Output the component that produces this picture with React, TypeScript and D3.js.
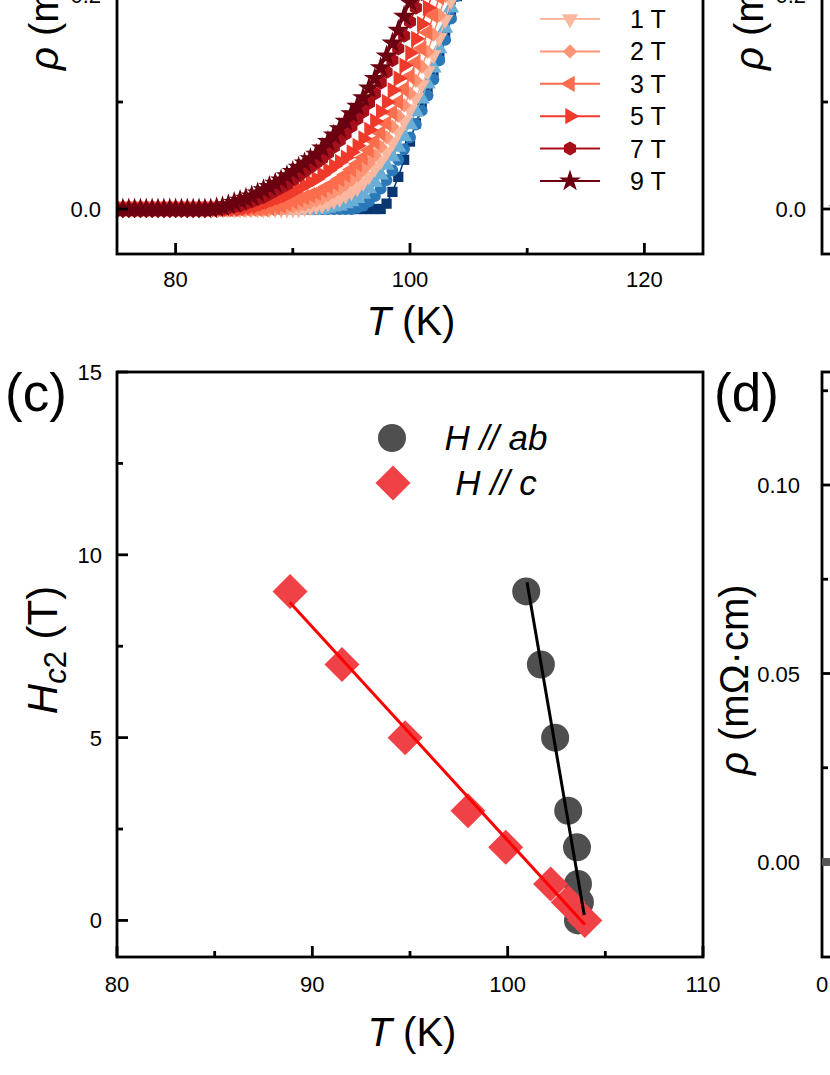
import React, { useEffect, useRef } from 'react';
import * as d3 from 'd3';

// ---- panel (a): rho(T) under field, H // c ----
const temps = [
  75, 75.5, 76, 76.5, 77, 77.5, 78, 78.5, 79, 79.5, 80, 80.5, 81, 81.5, 82, 82.5, 83, 83.5, 84, 84.5,
  85, 85.5, 86, 86.5, 87, 87.5, 88, 88.5, 89, 89.5, 90, 90.5, 91, 91.5, 92, 92.5, 93, 93.5, 94, 94.5,
  95, 95.5, 96, 96.5, 97, 97.5, 98, 98.5, 99, 99.5, 100, 100.5, 101, 101.5, 102, 102.5, 103, 103.5, 104, 104.5, 105,
];

const fieldLabels = ['0 T', '0.2 T', '0.5 T', '1 T', '2 T', '3 T', '5 T', '7 T', '9 T'];
const fieldColors = ['#0a3773', '#2a78b8', '#6aaed6', '#fcb89e', '#fc9575', '#fb6d4c', '#ef3a2b', '#a7101a', '#6b0010'];
const fieldSymbols = ['square', 'circle', 'triUp', 'triDown', 'diamond', 'triLeft', 'triRight', 'hexagon', 'star'];

const rho0T = [
  0, 0, 0, 0, 0, 0, 0, 0, 0, 0, 0, 0, 0, 0, 0, 0, 0, 0, 0, 0, 0, 0, 0, 0, 0, 0, 0, 0, 0, 0,
  0, 0, 0, 0, 0, 0, 0, 0, 0, 0, 0, 0, 0, 0, 0, 0,
  0.005, 0.016, 0.030, 0.046, 0.063, 0.080, 0.096, 0.111, 0.127, 0.144, 0.161, 0.180, 0.199, 0.218, 0.237,
];
const rho02T = [
  0, 0, 0, 0, 0, 0, 0, 0, 0, 0, 0, 0, 0, 0, 0, 0, 0, 0, 0, 0, 0, 0, 0, 0, 0, 0, 0, 0, 0, 0,
  0, 0, 0, 0, 0, 0, 0, 0, 0, 0, 0,
  0.001, 0.003, 0.007, 0.012, 0.019, 0.027, 0.036, 0.046, 0.056, 0.067, 0.079, 0.092, 0.106, 0.121, 0.139,
  0.158, 0.178, 0.199, 0.220,
];
const rho05T = [
  0, 0, 0, 0, 0, 0, 0, 0, 0, 0, 0, 0, 0, 0, 0, 0, 0, 0, 0, 0, 0, 0, 0, 0, 0, 0, 0, 0, 0, 0,
  0, 0, 0, 0, 0, 0,
  0.001, 0.002, 0.003, 0.005, 0.007, 0.010, 0.014, 0.019, 0.025, 0.032, 0.041, 0.049, 0.058, 0.068, 0.079,
  0.091, 0.103, 0.117, 0.132, 0.150, 0.169, 0.188, 0.207, 0.226,
];
const rho1T = [
  0, 0, 0, 0, 0, 0, 0, 0, 0, 0, 0, 0, 0, 0, 0, 0, 0, 0, 0, 0, 0, 0, 0, 0, 0, 0, 0, 0, 0, 0,
  0, 0,
  0.001, 0.002, 0.003, 0.004, 0.006, 0.008, 0.010, 0.013, 0.016, 0.020, 0.025, 0.031, 0.038, 0.045, 0.053,
  0.062, 0.072, 0.082, 0.093, 0.104, 0.116, 0.129, 0.144, 0.160, 0.177, 0.195, 0.214,
];
const rho2T = [
  0, 0, 0, 0, 0, 0, 0, 0, 0, 0, 0, 0, 0, 0, 0, 0, 0, 0, 0, 0, 0, 0, 0, 0, 0, 0, 0, 0, 0,
  0.001, 0.002, 0.003, 0.004, 0.006, 0.008, 0.010, 0.013, 0.016, 0.019, 0.023, 0.027, 0.031, 0.037, 0.043,
  0.050, 0.058, 0.067, 0.077, 0.087, 0.097, 0.108, 0.120, 0.133, 0.147, 0.163, 0.181, 0.199, 0.217, 0.235,
];
const rho3T = [
  0, 0, 0, 0, 0, 0, 0, 0, 0, 0, 0, 0, 0, 0, 0, 0, 0, 0, 0, 0, 0, 0, 0, 0, 0, 0,
  0.001, 0.002, 0.003, 0.005, 0.007, 0.009, 0.011, 0.013, 0.015, 0.018, 0.021, 0.024, 0.028, 0.032, 0.037,
  0.042, 0.048, 0.055, 0.063, 0.071, 0.080, 0.090, 0.100, 0.112, 0.124, 0.137, 0.150, 0.165, 0.181, 0.198,
  0.215, 0.232,
];
const rho5T = [
  0, 0, 0, 0, 0, 0, 0, 0, 0, 0, 0, 0, 0, 0, 0, 0, 0, 0, 0, 0, 0, 0,
  0.001, 0.002, 0.003, 0.005, 0.007, 0.009, 0.011, 0.013, 0.016, 0.019, 0.022, 0.025, 0.028, 0.032, 0.036,
  0.040, 0.044, 0.048, 0.053, 0.059, 0.066, 0.074, 0.082, 0.091, 0.100, 0.111, 0.122, 0.134, 0.146, 0.159,
  0.173, 0.188, 0.203, 0.218, 0.233,
];
const rho7T = [
  0, 0, 0, 0, 0, 0, 0, 0, 0, 0, 0, 0, 0, 0, 0, 0, 0, 0, 0,
  0.001, 0.002, 0.003, 0.005, 0.007, 0.009, 0.011, 0.014, 0.017, 0.020, 0.023, 0.027, 0.031, 0.035, 0.039,
  0.043, 0.047, 0.052, 0.058, 0.064, 0.070, 0.077, 0.084, 0.091, 0.099, 0.108, 0.118, 0.128, 0.139, 0.150,
  0.162, 0.175, 0.188, 0.201, 0.214, 0.227, 0.240,
];
const rho9T = [
  0, 0, 0, 0, 0, 0, 0, 0, 0, 0, 0, 0, 0, 0, 0, 0, 0,
  0.001, 0.002, 0.004, 0.006, 0.008, 0.010, 0.012, 0.015, 0.018, 0.021, 0.024, 0.027, 0.031, 0.035, 0.039,
  0.043, 0.047, 0.051, 0.057, 0.063, 0.069, 0.075, 0.082, 0.089, 0.096, 0.104, 0.113, 0.122, 0.132, 0.143,
  0.155, 0.167, 0.180, 0.193, 0.206, 0.219, 0.232,
];
const rhoSeries = [rho0T, rho02T, rho05T, rho1T, rho2T, rho3T, rho5T, rho7T, rho9T];

// ---- panel (b): only its left edge is in view ----
const tempsB = [1.5, 3];
const rhoB = [0, 0];

// ---- panel (c): upper critical field ----
const hFields = [0, 0.5, 1, 2, 3, 5, 7, 9];
const tcAb = [103.6, 103.7, 103.6, 103.55, 103.1, 102.43, 101.7, 100.95];
const tcC = [103.95, 103.1, 102.2, 99.9, 97.97, 94.75, 91.52, 88.86];
const fitAbT = [100.99, 103.92];
const fitAbH = [9.25, 0.15];
const fitCT = [88.84, 103.96];
const fitCH = [8.7, -0.12];

// ---- panel (d): only its left edge is in view ----
const tempsD = [2];
const rhoD = [0];

const FONT = '"Liberation Sans", Arial, Helvetica, sans-serif';

function symbolPath(kind: string): string {
  if (kind === 'square') return d3.symbol().type(d3.symbolSquare).size(105)()!;
  if (kind === 'circle') return d3.symbol().type(d3.symbolCircle).size(110)()!;
  if (kind.startsWith('tri')) return d3.symbol().type(d3.symbolTriangle).size(115)()!;
  if (kind === 'diamond') return d3.symbol().type(d3.symbolSquare).size(100)()!;
  if (kind === 'star') return d3.symbol().type(d3.symbolStar).size(150)()!;
  // hexagon
  const r = 7;
  const pts = d3.range(6).map((i) => {
    const a = (Math.PI / 3) * i - Math.PI / 2;
    return [r * Math.cos(a), r * Math.sin(a)];
  });
  return 'M' + pts.map((p) => p.join(',')).join('L') + 'Z';
}

function symbolRotate(kind: string): number {
  if (kind === 'triDown') return 180;
  if (kind === 'triLeft') return -90;
  if (kind === 'triRight') return 90;
  if (kind === 'diamond') return 45;
  return 0;
}

export default function App() {
  const svgRef = useRef<SVGSVGElement>(null);

  useEffect(() => {
    const svg = d3.select(svgRef.current);
    svg.selectAll('*').remove();
    svg.attr('font-family', FONT);

    const axisW = 2.8;
    const major = 11;
    const minor = 6;
    const tickFont = 22;

    const tick = (x1: number, y1: number, x2: number, y2: number) =>
      svg.append('line').attr('x1', x1).attr('y1', y1).attr('x2', x2).attr('y2', y2)
        .attr('stroke', '#000').attr('stroke-width', axisW);

    const frame = (x: number, y: number, w: number, h: number) =>
      svg.append('rect').attr('x', x).attr('y', y).attr('width', w).attr('height', h)
        .attr('fill', 'none').attr('stroke', '#000').attr('stroke-width', axisW);

    const label = (x: number, y: number, txt: string, size: number, anchor = 'middle') =>
      svg.append('text').attr('x', x).attr('y', y).attr('text-anchor', anchor)
        .attr('font-size', size).attr('fill', '#000').text(txt);

    const rhoTitle = (x: number, y: number) => {
      const t = svg.append('text').attr('transform', `translate(${x},${y}) rotate(-90)`)
        .attr('font-size', 40).attr('text-anchor', 'start');
      t.append('tspan').attr('font-style', 'italic').text('\u03c1');
      t.append('tspan').text(' (m\u03a9\u00b7cm)');
    };

    const tTitle = (x: number, y: number) => {
      const t = svg.append('text').attr('x', x).attr('y', y).attr('text-anchor', 'middle').attr('font-size', 40);
      t.append('tspan').attr('font-style', 'italic').text('T');
      t.append('tspan').text(' (K)');
    };

    const drawSym = (g: any, kind: string, x: number, y: number, color: string) =>
      g.append('path').attr('d', symbolPath(kind))
        .attr('transform', `translate(${x},${y}) rotate(${symbolRotate(kind)})`)
        .attr('fill', color);

    // ================= panel (a) =================
    const xA = d3.scaleLinear().domain([75, 125]).range([117, 703]);
    const yA = d3.scaleLinear().domain([0, 0.2]).range([209, -5]);
    const botA = 254;

    svg.append('clipPath').attr('id', 'clipA').append('rect')
      .attr('x', 117).attr('y', -400).attr('width', 586).attr('height', botA + 400);
    const gA = svg.append('g').attr('clip-path', 'url(#clipA)');

    rhoSeries.forEach((vals, k) => {
      const color = fieldColors[k];
      const line = d3.line<number>().x((_, i) => xA(temps[i])).y((d) => yA(d));
      gA.append('path').attr('d', line(vals)).attr('fill', 'none')
        .attr('stroke', color).attr('stroke-width', 1.5);
      vals.forEach((v, i) => drawSym(gA, fieldSymbols[k], xA(temps[i]), yA(v), color));
    });

    frame(117, -400, 586, botA + 400);
    [80, 100, 120].forEach((t) => {
      tick(xA(t), botA, xA(t), botA - major);
      label(xA(t), 287, String(t), tickFont);
    });
    [90, 110].forEach((t) => tick(xA(t), botA, xA(t), botA - minor));
    [0, 0.2].forEach((v) => {
      tick(117, yA(v), 117 + major, yA(v));
      label(101, yA(v) + 8, v.toFixed(1), tickFont, 'end');
    });
    tick(117, yA(0.1), 117 + minor, yA(0.1));
    tTitle(411, 335);
    rhoTitle(58, 70);

    // legend (a)
    fieldLabels.forEach((lab, k) => {
      const y = 181 - (fieldLabels.length - 1 - k) * 32.4;
      svg.append('line').attr('x1', 540).attr('x2', 600).attr('y1', y).attr('y2', y)
        .attr('stroke', fieldColors[k]).attr('stroke-width', 2);
      drawSym(svg, fieldSymbols[k], 570, y, fieldColors[k]);
      label(630, y + 9, lab, 25, 'start');
    });

    // ================= panel (b), left edge =================
    const xB = d3.scaleLinear().domain([0, 50]).range([822, 1408]);
    const yB = yA;
    frame(822, -400, 600, botA + 400);
    tick(822, yB(0.1), 822 + minor, yB(0.1));
    [0, 0.2].forEach((v) => {
      tick(822, yB(v), 822 + major, yB(v));
      label(806, yB(v) + 8, v.toFixed(1), tickFont, 'end');
    });
    rhoTitle(763, 70);
    rhoSeries.forEach((_, k) => {
      rhoB.forEach((v, i) => drawSym(svg, fieldSymbols[k], xB(tempsB[i]), yB(v), fieldColors[k]));
    });

    // ================= panel (c) =================
    const xC = d3.scaleLinear().domain([80, 110]).range([117, 703]);
    const yC = d3.scaleLinear().domain([-1, 15]).range([957, 372]);

    frame(117, 372, 586, 585);
    [80, 90, 100, 110].forEach((t) => {
      tick(xC(t), 957, xC(t), 957 - major);
      label(xC(t), 992, String(t), tickFont);
    });
    [85, 95, 105].forEach((t) => tick(xC(t), 957, xC(t), 957 - minor));
    [0, 5, 10, 15].forEach((v) => {
      tick(117, yC(v), 117 + major, yC(v));
      label(102, yC(v) + 8, String(v), tickFont, 'end');
    });
    [2.5, 7.5, 12.5].forEach((v) => tick(117, yC(v), 117 + minor, yC(v)));

    const diamond = (x: number, y: number, r: number) =>
      `M${x},${y - r}L${x + r},${y}L${x},${y + r}L${x - r},${y}Z`;

    hFields.forEach((h, i) => {
      svg.append('circle').attr('cx', xC(tcAb[i])).attr('cy', yC(h)).attr('r', 14).attr('fill', '#4f4f4f');
    });
    hFields.forEach((h, i) => {
      svg.append('path').attr('d', diamond(xC(tcC[i]), yC(h), 17.5)).attr('fill', '#ef4146');
    });
    svg.append('line').attr('x1', xC(fitCT[0])).attr('y1', yC(fitCH[0]))
      .attr('x2', xC(fitCT[1])).attr('y2', yC(fitCH[1])).attr('stroke', '#ff0000').attr('stroke-width', 3);
    svg.append('line').attr('x1', xC(fitAbT[0])).attr('y1', yC(fitAbH[0]))
      .attr('x2', xC(fitAbT[1])).attr('y2', yC(fitAbH[1])).attr('stroke', '#000').attr('stroke-width', 3);

    // legend (c)
    svg.append('circle').attr('cx', 392).attr('cy', 438).attr('r', 14).attr('fill', '#4f4f4f');
    svg.append('path').attr('d', diamond(393, 483, 17.5)).attr('fill', '#ef4146');
    label(496, 450, 'H // ab', 35).attr('font-style', 'italic');
    label(496, 495, 'H // c', 35).attr('font-style', 'italic');

    tTitle(412, 1046);
    const hc = svg.append('text').attr('transform', 'translate(57,650) rotate(-90)')
      .attr('font-size', 42).attr('text-anchor', 'middle');
    hc.append('tspan').attr('font-style', 'italic').text('H');
    hc.append('tspan').attr('font-style', 'italic').attr('font-size', 31).attr('dy', 9).text('c');
    hc.append('tspan').attr('font-size', 31).text('2');
    hc.append('tspan').attr('dy', -9).text(' (T)');

    label(5, 411, '(c)', 53, 'start');

    // ================= panel (d), left edge =================
    const xD = d3.scaleLinear().domain([0, 300]).range([822, 1408]);
    const yD = d3.scaleLinear().domain([0, 0.1]).range([862, 485]);
    frame(822, 372, 600, 585);
    [0, 0.05, 0.1].forEach((v) => {
      tick(822, yD(v), 822 + major, yD(v));
      label(800, yD(v) + 8, v.toFixed(2), tickFont, 'end');
    });
    [0.025, 0.075, 0.125].forEach((v) => tick(822, yD(v), 822 + minor, yD(v)));
    label(822, 992, '0', tickFont);
    rhoTitle(748, 775);
    label(714, 411, '(d)', 53, 'start');
    rhoD.forEach((v, i) => {
      svg.append('rect').attr('x', xD(tempsD[i]) - 4).attr('y', yD(v) - 4)
        .attr('width', 8).attr('height', 8).attr('fill', '#555');
    });
  }, []);

  return (
    <svg
      ref={svgRef}
      width={830}
      height={1075}
      style={{ position: 'absolute', left: 0, top: 0, background: '#fff' }}
    />
  );
}
